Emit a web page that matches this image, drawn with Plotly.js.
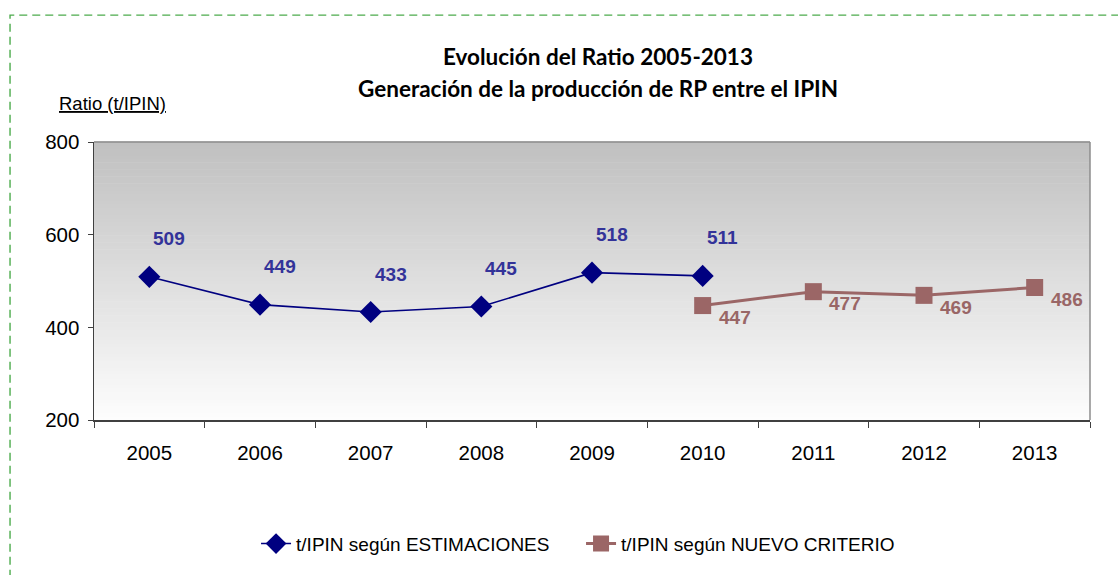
<!DOCTYPE html>
<html>
<head>
<meta charset="utf-8">
<script src="https://cdn.plot.ly/plotly-3.0.1.min.js"></script>
<style>html,body{margin:0;padding:0;background:#fff;}</style>
</head>
<body>
<div id="chart" style="width:1118px;height:575px;"></div>
<script>
// ---- data ----
var years = ["2005","2006","2007","2008","2009","2010","2011","2012","2013"];
var estYears = ["2005","2006","2007","2008","2009","2010"];
var estValues = [509, 449, 433, 445, 518, 511];
var nuevoYears = ["2010","2011","2012","2013"];
var nuevoValues = [447, 477, 469, 486];
var yTicks = [200, 400, 600, 800];
var titleLine1 = "Evolución del Ratio 2005-2013";
var titleLine2 = "Generación de la producción de RP entre el IPIN";
var yLabel = "Ratio (t/IPIN)";
var estName = "t/IPIN según ESTIMACIONES";
var nuevoName = "t/IPIN según NUEVO CRITERIO";

var blue = "#000080", blueText = "#333399";
var brown = "#9B6666", brownText = "#996666";
var AR = "Liberation Sans, Arial, sans-serif";

var traces = [
  {x: estYears, y: estValues, name: estName, type: "scatter", mode: "lines+markers",
   line: {color: blue, width: 1.6}, marker: {symbol: "diamond", size: 17, color: blue}},
  {x: nuevoYears, y: nuevoValues, name: nuevoName, type: "scatter", mode: "lines+markers",
   line: {color: brown, width: 3}, marker: {symbol: "square", size: 17, color: brown}}
];

// gradient background
var shapes = [];
var N = 80;
for (var i = 0; i < N; i++) {
  var t = i / (N - 1);
  var c = Math.round(253 - (253 - 192) * t);
  var col = "rgb(" + c + "," + c + "," + c + ")";
  shapes.push({type: "rect", xref: "x domain", yref: "y domain", x0: 0, x1: 1,
    y0: i / N, y1: (i + 1) / N + 0.002, fillcolor: col, line: {width: 0}, layer: "below"});
}
// top and right border of plot area
shapes.push({type: "line", xref: "x domain", yref: "y domain", x0: 0, x1: 1, y0: 1, y1: 1, line: {color: "#8c8c8c", width: 1.5}});
shapes.push({type: "line", xref: "x domain", yref: "y domain", x0: 1, x1: 1, y0: 0, y1: 1, line: {color: "#8c8c8c", width: 1.5}});
// dashed green frame
shapes.push({type: "rect", xref: "paper", yref: "paper", x0: -0.0843, x1: 1.2, y0: -1.0, y1: 1.4565,
  line: {color: "#4CAB4C", width: 1.4, dash: "8px,5px"}, fillcolor: "rgba(0,0,0,0)"});

function catIndex(yr) { return years.indexOf(yr); }

var annotations = [];
estYears.forEach(function (yr, i) {
  annotations.push({x: catIndex(yr), y: estValues[i], xref: "x", yref: "y", text: "<b>" + estValues[i] + "</b>",
    showarrow: false, xshift: 20, yshift: 38, font: {family: AR, size: 19, color: blueText}});
});
nuevoYears.forEach(function (yr, i) {
  annotations.push({x: catIndex(yr), y: nuevoValues[i], xref: "x", yref: "y", text: "<b>" + nuevoValues[i] + "</b>",
    showarrow: false, xshift: 32, yshift: -12, font: {family: AR, size: 19, color: brownText}});
});
annotations.push({xref: "paper", yref: "paper", x: 0.5065, y: 1.308, xanchor: "center", yanchor: "middle",
  text: "<b>" + titleLine1 + "</b>", showarrow: false, font: {family: "Lato, sans-serif", size: 22.5, color: "#000"}});
annotations.push({xref: "paper", yref: "paper", x: 0.5065, y: 1.192, xanchor: "center", yanchor: "middle",
  text: "<b>" + titleLine2 + "</b>", showarrow: false, font: {family: "Lato, sans-serif", size: 22.5, color: "#000"}});
annotations.push({xref: "paper", yref: "paper", x: -0.0375, y: 1.139, xanchor: "left", yanchor: "middle",
  text: "<span style='text-decoration:underline'>" + yLabel + "</span>", showarrow: false,
  font: {family: AR, size: 18.5, color: "#000"}});

var layout = {
  width: 1118, height: 575,
  margin: {l: 93.5, r: 27.5, t: 142, b: 150},
  paper_bgcolor: "#fff", plot_bgcolor: "rgba(0,0,0,0)",
  showlegend: true,
  legend: {orientation: "h", x: 0.489, xanchor: "center", y: -0.445, yanchor: "middle",
    font: {family: AR, size: 19, color: "#000"}, entrywidth: 280, entrywidthmode: "pixels",
    bgcolor: "rgba(0,0,0,0)"},
  xaxis: {type: "category", categoryarray: years, categoryorder: "array", range: [-0.5, 8.5],
    showgrid: false, zeroline: false, showline: true, linecolor: "#404040", linewidth: 1.5,
    ticks: "outside", tickson: "boundaries", ticklen: 6, tickcolor: "#404040", ticklabelstandoff: 14,
    tickfont: {family: AR, size: 20.5, color: "#000"}, fixedrange: true},
  yaxis: {range: [200, 800], tickvals: yTicks, showgrid: false, zeroline: false,
    showline: true, linecolor: "#404040", linewidth: 1.5, ticks: "outside", ticklen: 5, ticklabelstandoff: 4,
    tickcolor: "#404040", tickfont: {family: AR, size: 20.5, color: "#000"}, fixedrange: true},
  shapes: shapes,
  annotations: annotations
};

Plotly.newPlot("chart", traces, layout, {displayModeBar: false, staticPlot: true});
</script>
</body>
</html>
